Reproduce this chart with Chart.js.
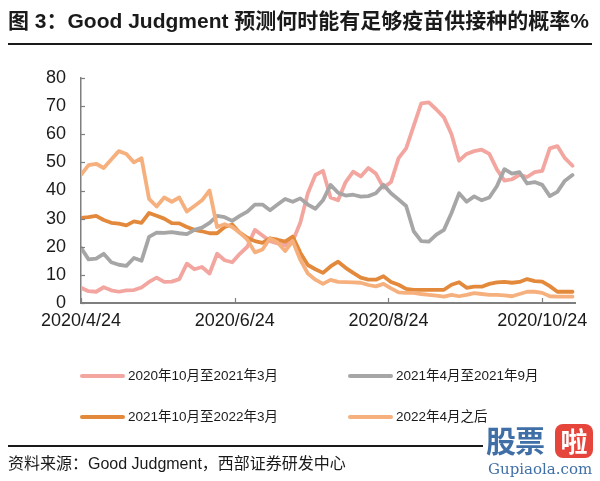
<!DOCTYPE html>
<html>
<head>
<meta charset="utf-8">
<script src="https://cdn.jsdelivr.net/npm/chart.js@4.4.1/dist/chart.umd.min.js"></script>
<style>
  html, body { margin: 0; padding: 0; background: #fff; }
  body { width: 600px; height: 481px; position: relative; overflow: hidden;
         font-family: "Liberation Sans", "Noto Sans CJK SC", sans-serif; color: #1a1a1a; }
  #wrap { position: absolute; left: 0; top: 0; width: 600px; height: 481px; }
  .abs { position: absolute; white-space: nowrap; }
  #title { left: 8px; top: 7px; font-size: 21px; font-weight: bold; line-height: 28px; color: #1a1a1a; }
  #rule1 { left: 8px; top: 43px; width: 584px; height: 2px; background: #1a1a1a; }
  #rule2 { left: 8px; top: 445px; width: 475px; height: 1.5px; background: #1a1a1a; }
  #source { left: 8px; top: 453px; font-size: 16px; line-height: 22px; color: #1a1a1a; }
  .lg { position: absolute; height: 20px; }
  .lg .sw { position: absolute; left: 0; top: 8px; width: 45px; height: 4px; border-radius: 2px; }
  .lg .tx { position: absolute; left: 48px; top: 0; font-size: 13.5px; line-height: 20px; white-space: nowrap; color: #1a1a1a; }
  #wm1 { left: 486px; top: 420px; font-size: 30px; font-weight: bold; color: #3f6fa6; font-family: "Noto Sans CJK SC", sans-serif; line-height: 38px; letter-spacing: -1px; }
  #wm2 { left: 555px; top: 424px; width: 38px; height: 34px; background: #e5453b; border-radius: 8px; color: #fff; font-size: 27px; font-weight: bold; text-align: center; line-height: 34px; font-family: "Noto Sans CJK SC", sans-serif; }
  #wm3 { left: 488px; top: 459px; font-size: 15px; color: #3f6fa6; font-family: "DejaVu Serif", "Liberation Serif", serif; line-height: 20px; }
</style>
</head>
<body>
<div id="wrap"><canvas id="c" width="600" height="481"></canvas></div>
<div id="title" class="abs">图 3：Good Judgment 预测何时能有足够疫苗供接种的概率%</div>
<div id="rule1" class="abs"></div>
<div id="legend"></div>
<div id="rule2" class="abs"></div>
<div id="source" class="abs">资料来源：Good Judgment，西部证券研发中心</div>
<div id="wm1" class="abs">股票</div>
<div id="wm2" class="abs">啦</div>
<div id="wm3" class="abs">Gupiaola.com</div>
<script>
// ---- data (days since 2020/4/24, every 3 days) ----
const startDate = [2020, 4, 24];
const dayStep = 3;
const tickDays = [0, 61, 122, 183];
const seriesNames = ["2020年10月至2021年3月", "2021年4月至2021年9月", "2021年10月至2022年3月", "2022年4月之后"];

const s2020Oct = [5.4,4.2,4,5.6,4.5,4,4.5,4.6,5.5,7.5,9,7.5,7.6,8.5,14,12,12.8,10.5,17.5,15.2,14.5,17.5,20,26,24,22,21.2,20.5,22,28.5,39,45.5,47,37.5,36.5,43,46.7,45,48,46,41,43,51.5,55,63,71,71.3,68.8,66,60,50.6,53,54,54.5,53,47.5,43.5,44,45.6,44.8,46.5,47,55,55.8,51.5,48.8];
const s2021Apr = [19.6,15.5,15.8,17.5,14.5,13.6,13.2,16,15,23.5,25,24.9,25.2,24.8,24.5,26,26.8,28.5,31,30.5,29.2,31,32.5,35,35,33,35,37,36,37.2,35,33.5,36.5,42,39.2,38.2,38.5,37.8,38,39,42,39,36.8,34.5,25.5,22,21.8,24.3,26,32,39,36,37.9,36.5,37.5,41.5,47.6,46,46.5,42.5,43,42,38,39.5,43.5,45.5];
const s2021Oct = [30.3,30.5,31,29.5,28.5,28.2,27.6,29,28.5,32,31,30,28.4,28.3,27,26,25.5,24.8,24.8,27,27.9,25,23.2,22,21.4,23,22.5,21.8,23.6,17.9,13.5,12,10.7,13,14.7,12.5,10.7,9,8.3,8.3,9.5,7.5,6.5,5,4.7,4.7,4.7,4.7,4.7,6.5,7.4,5.4,5.8,5.8,6.8,7.3,7.5,7.2,7.5,8.5,7.8,7.6,6,4,4,4];
const s2022Apr = [45.6,49,49.5,48,51,54,53,50,51.5,37,34.3,37.5,36,37.5,32.5,34.5,36.5,40,27,28,27,25,22.5,18,19,23,21.5,18.5,22,15.4,10.5,8.3,6.8,8.2,7.5,7.4,7.3,7.2,6.4,5.9,6.8,5.2,3.8,3.6,3.6,3.2,2.9,2.6,2.3,2.9,2.4,2.9,3.5,3.2,2.9,2.9,2.7,2.4,3.2,4,4,3.6,2.4,2.3,2.3,2.3];

const colors = ["#F3A59F", "#A6A6A6", "#E3893C", "#F6B07E"];
const allSeries = [s2020Oct, s2021Apr, s2021Oct, s2022Apr];
const drawOrder = [3, 1, 2, 0];

function dayLabel(d) {
  const dt = new Date(startDate[0], startDate[1] - 1, startDate[2] + d);
  return dt.getFullYear() + "/" + (dt.getMonth() + 1) + "/" + dt.getDate();
}

const datasets = allSeries.map((vals, i) => ({
  label: seriesNames[i],
  data: vals.map((v, k) => ({ x: k * dayStep, y: v })),
  borderColor: colors[i],
  backgroundColor: colors[i],
  borderWidth: 3.8,
  pointRadius: 0,
  tension: 0,
  borderCapStyle: "round",
  borderJoinStyle: "round",
  order: drawOrder[i]
}));

const innerTicks = {
  id: "innerTicks",
  afterDatasetsDraw(chart) {
    const ctx = chart.ctx, x = chart.scales.x, y = chart.scales.y;
    ctx.save();
    ctx.strokeStyle = "#7f7f7f";
    ctx.lineWidth = 1.2;
    y.ticks.forEach(t => {
      const py = Math.round(y.getPixelForValue(t.value)) + 0.5;
      ctx.beginPath(); ctx.moveTo(x.left, py); ctx.lineTo(x.left + 4, py); ctx.stroke();
    });
    x.ticks.forEach(t => {
      const px = Math.round(x.getPixelForValue(t.value)) + 0.5;
      ctx.beginPath(); ctx.moveTo(px, y.bottom); ctx.lineTo(px, y.bottom - 5); ctx.stroke();
    });
    ctx.restore();
  }
};

new Chart(document.getElementById("c"), {
  type: "line",
  data: { datasets },
  options: {
    responsive: false,
    animation: false,
    layout: { padding: { top: 78, right: 25, bottom: 148, left: 0 } },
    plugins: { legend: { display: false }, tooltip: { enabled: false } },
    scales: {
      x: {
        type: "linear", min: 0, max: 196,
        afterBuildTicks: s => { s.ticks = tickDays.map(v => ({ value: v })); },
        afterFit: s => { s.height = 30; },
        grid: { drawOnChartArea: false, drawTicks: false },
        border: { color: "#7f7f7f", width: 2 },
        ticks: { padding: 7, color: "#1a1a1a", maxRotation: 0, autoSkip: false,
                 font: { family: "Liberation Sans", size: 18 },
                 callback: v => dayLabel(v) }
      },
      y: {
        min: 0, max: 80,
        afterFit: s => { s.width = 81; },
        grid: { drawOnChartArea: false, drawTicks: false },
        border: { color: "#7f7f7f", width: 1.5 },
        ticks: { stepSize: 10, padding: 15, color: "#1a1a1a",
                 font: { family: "Liberation Sans", size: 18 } }
      }
    }
  },
  plugins: [innerTicks]
});

// legend (HTML)
const legendPos = [[80, 366], [348, 366], [80, 407], [348, 407]];
const lg = document.getElementById("legend");
seriesNames.forEach((name, i) => {
  const d = document.createElement("div");
  d.className = "lg";
  d.style.left = legendPos[i][0] + "px";
  d.style.top = legendPos[i][1] + "px";
  d.innerHTML = '<div class="sw" style="background:' + colors[i] + '"></div><div class="tx">' + name + '</div>';
  lg.appendChild(d);
});
</script>
</body>
</html>
